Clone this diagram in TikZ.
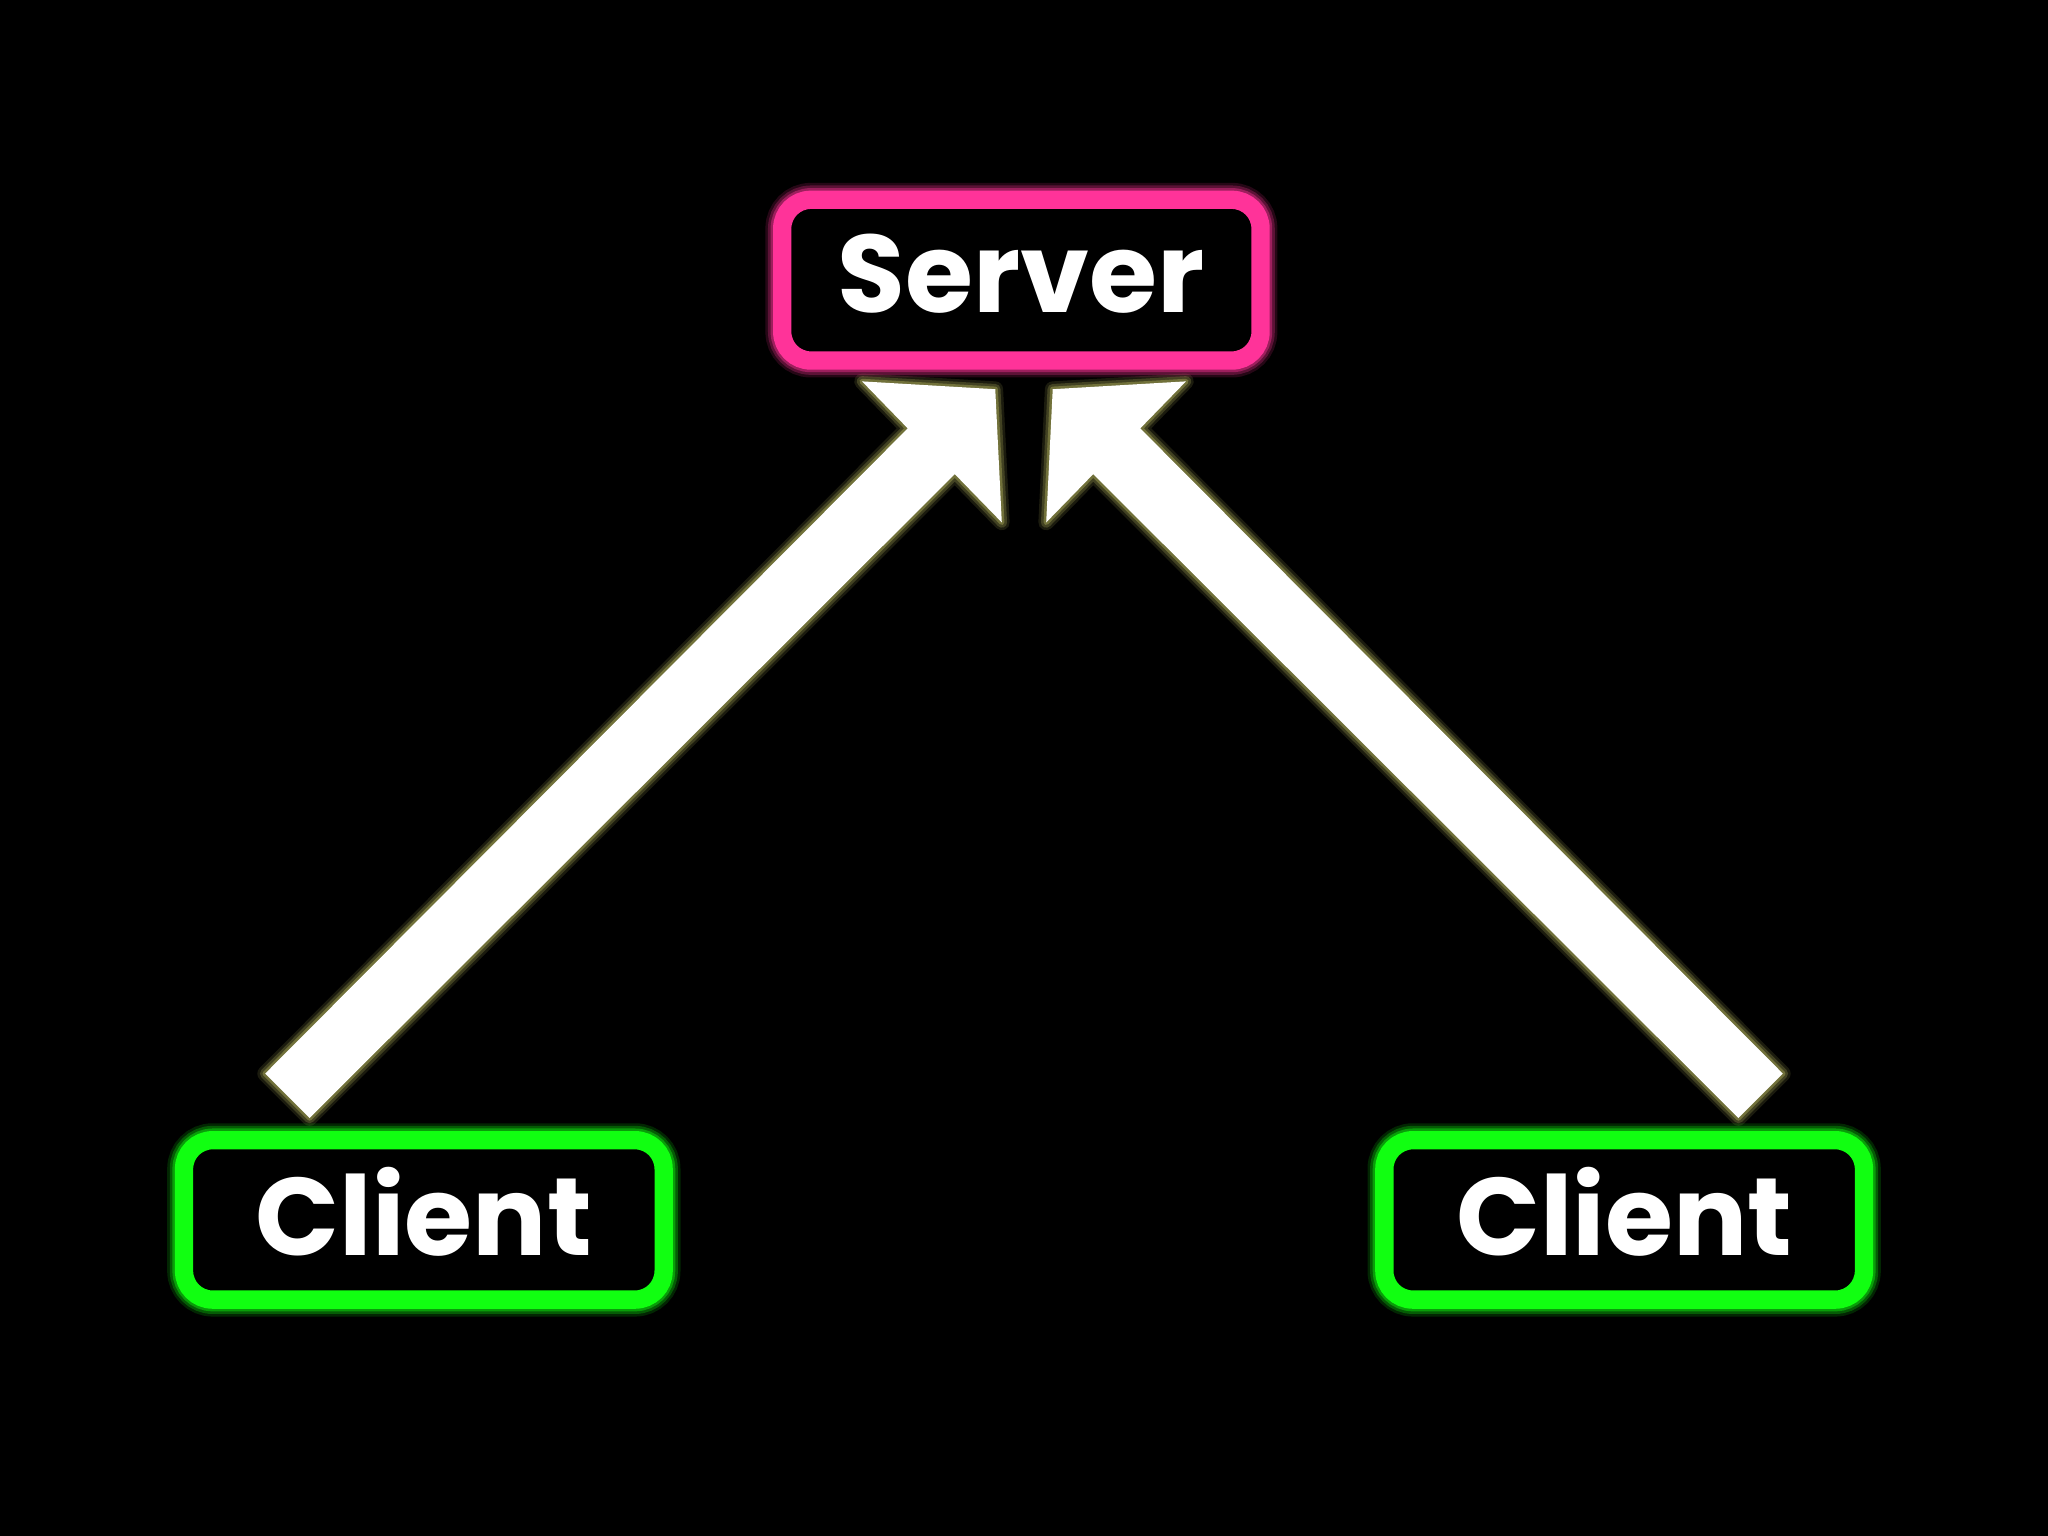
\documentclass[tikz,border=0pt]{standalone}
\usepackage{fontspec}
\setmainfont{Poppins}
\definecolor{pinkc}{HTML}{FF3399}
\definecolor{greenc}{HTML}{11FF11}
\definecolor{glowy}{HTML}{B8B860}
\tikzset{
 box/.style={draw=#1,line width=0.14cm,rounded corners=0.22cm,fill=black,text=white,inner sep=0,font=\fontsize{24}{28}\selectfont\bfseries},
}
\begin{document}
\begin{tikzpicture}[x=0.01cm,y=-0.01cm]
\fill[black] (0,0) rectangle (1568,1176);
% glow layers
\foreach \w/\o in {0.12/0.15,0.08/0.25,0.04/0.4}{
 \draw[glowy,line width=\w cm,opacity=\o,line join=round] (203,822)--(695,328)--(660,292)--(762,298)--(767,400)--(731,363)--(237,856)--cycle;
 \draw[glowy,line width=\w cm,opacity=\o,line join=round] (1365,822)--(873,328)--(908,292)--(806,298)--(801,400)--(837,363)--(1331,856)--cycle;
 \draw[pinkc,line width=0.14cm+\w cm,opacity=\o,rounded corners=0.22cm] (599,153) rectangle (965,276);
 \draw[greenc,line width=0.14cm+\w cm,opacity=\o,rounded corners=0.22cm] (141,873) rectangle (508,995);
 \draw[greenc,line width=0.14cm+\w cm,opacity=\o,rounded corners=0.22cm] (1060,873) rectangle (1427,995);
}
\fill[white] (203,822)--(695,328)--(660,292)--(762,298)--(767,400)--(731,363)--(237,856)--cycle;
\fill[white] (1365,822)--(873,328)--(908,292)--(806,298)--(801,400)--(837,363)--(1331,856)--cycle;
\node[box=pinkc,minimum width=3.66cm,minimum height=1.23cm] (server) at (782,214.5) {\raisebox{0.1cm}{Server}};
\node[box=greenc,minimum width=3.67cm,minimum height=1.22cm] (c1) at (324.5,934) {\raisebox{0.13cm}{Client}};
\node[box=greenc,minimum width=3.67cm,minimum height=1.22cm] (c2) at (1243.5,934) {\raisebox{0.13cm}{Client}};
\end{tikzpicture}
\end{document}
